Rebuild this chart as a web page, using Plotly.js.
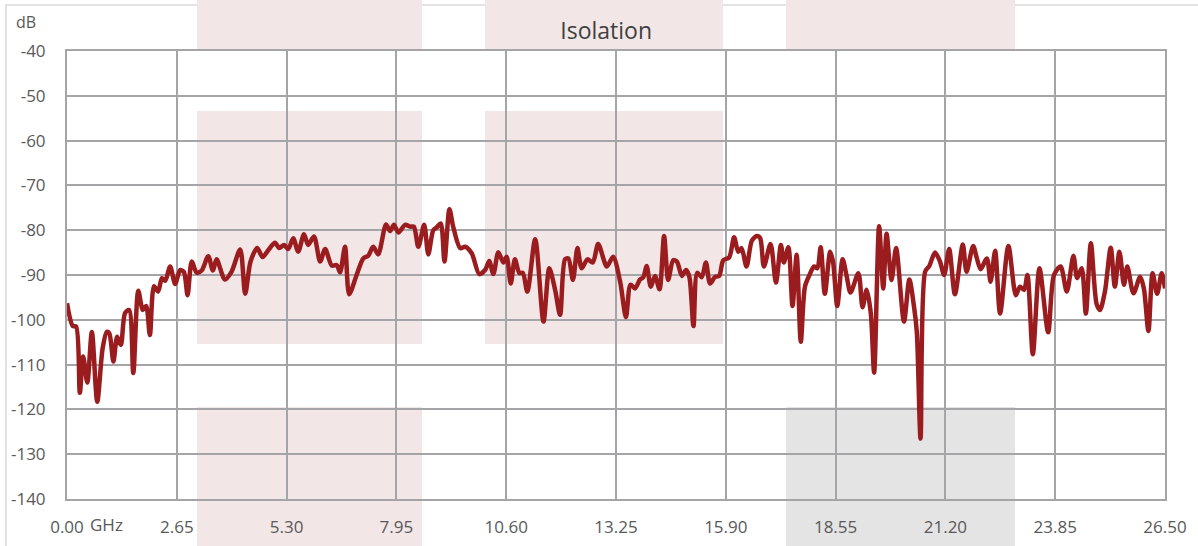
<!DOCTYPE html>
<html>
<head>
<meta charset="utf-8">
<script src="https://cdn.plot.ly/plotly-3.0.1.min.js"></script>
<style>html,body{margin:0;padding:0;background:#fff;}#chart{width:1198px;height:546px;}</style>
</head>
<body>
<div id="chart"></div>
<script>
// Frequency (GHz)
const freqGHz = [
0.00,0.14,0.22,0.31,0.39,0.49,0.60,0.73,0.86,0.96,1.02,1.12,1.21,1.30,1.40,1.50,1.60,1.72,1.83,1.91,
2.00,2.10,2.20,2.29,2.37,2.49,2.61,2.73,2.82,2.91,3.01,3.13,3.25,3.41,3.52,3.61,3.81,3.97,4.18,4.30,
4.43,4.59,4.72,4.86,5.02,5.12,5.24,5.34,5.46,5.58,5.72,5.82,5.96,6.11,6.23,6.39,6.51,6.59,6.71,6.81,
6.99,7.15,7.27,7.39,7.51,7.70,7.80,7.89,8.00,8.16,8.28,8.37,8.48,8.62,8.72,8.84,8.92,9.02,9.11,9.23,
9.32,9.49,9.61,9.77,9.95,10.09,10.19,10.29,10.41,10.53,10.61,10.71,10.81,10.92,11.00,11.11,11.30,11.50,11.64,11.78,
11.90,12.02,12.10,12.21,12.32,12.42,12.56,12.69,12.82,13.03,13.18,13.35,13.49,13.60,13.71,13.83,13.91,13.99,14.09,14.19,
14.30,14.41,14.51,14.63,14.72,14.84,14.94,15.02,15.12,15.21,15.32,15.42,15.52,15.64,15.74,15.84,15.98,16.10,16.20,16.28,
16.40,16.53,16.65,16.73,16.82,16.98,17.11,17.23,17.30,17.41,17.51,17.61,17.71,17.81,17.92,18.03,18.11,18.19,18.29,18.42,
18.49,18.59,18.72,18.82,18.91,19.10,19.20,19.30,19.40,19.48,19.60,19.70,19.78,19.90,20.01,20.20,20.33,20.44,20.51,20.60,
20.71,20.81,20.95,21.07,21.17,21.29,21.43,21.62,21.71,21.87,21.96,22.05,22.20,22.29,22.40,22.52,22.72,22.90,23.00,23.10,
23.18,23.31,23.47,23.68,23.82,23.98,24.13,24.29,24.38,24.49,24.59,24.71,24.85,24.93,25.05,25.19,25.29,25.40,25.51,25.59,
25.74,25.90,25.99,26.10,26.20,26.31,26.42,26.50
];
// Isolation (dB)
const isolationDB = [
-96.3,-101.4,-101.5,-116.3,-108.2,-114.0,-102.7,-118.3,-106.4,-102.7,-103.0,-109.3,-103.8,-105.6,-98.5,-97.8,-111.9,-93.5,-97.8,-96.9,
-103.4,-92.5,-93.7,-90.7,-91.3,-88.1,-92.0,-88.9,-89.3,-94.5,-87.0,-89.5,-89.0,-85.8,-89.0,-86.5,-91.0,-89.3,-84.3,-94.2,
-87.0,-84.0,-86.0,-84.4,-82.8,-84.0,-83.3,-84.2,-81.8,-84.8,-80.9,-83.3,-81.4,-87.0,-84.2,-87.9,-87.8,-89.4,-83.7,-94.3,
-90.0,-86.3,-85.7,-83.7,-85.4,-78.7,-80.2,-78.8,-80.5,-78.8,-79.2,-79.2,-83.7,-78.8,-85.4,-80.0,-79.4,-78.5,-87.0,-75.3,
-79.2,-84.0,-83.7,-85.2,-89.8,-88.9,-86.9,-89.8,-84.9,-87.2,-85.9,-91.9,-86.5,-89.6,-89.5,-93.7,-82.0,-100.4,-88.5,-93.3,
-98.9,-86.5,-86.3,-91.1,-84.0,-88.5,-86.5,-87.2,-83.1,-88.1,-85.9,-91.5,-99.4,-92.2,-93.0,-91.0,-90.5,-88.0,-92.6,-90.2,
-93.2,-81.3,-91.1,-86.7,-87.0,-90.2,-88.9,-90.4,-101.4,-89.5,-90.5,-87.2,-91.9,-90.4,-90.2,-86.7,-86.1,-81.6,-84.8,-84.0,
-88.1,-82.3,-81.3,-81.8,-88.1,-83.1,-91.7,-83.3,-87.2,-83.8,-96.9,-85.5,-104.9,-92.6,-90.0,-88.1,-88.5,-83.8,-94.2,-84.8,
-87.2,-96.9,-86.5,-90.4,-93.9,-89.6,-97.2,-93.3,-98.6,-111.8,-79.1,-93.0,-80.8,-91.1,-84.0,-100.4,-91.0,-96.9,-102.7,-126.5,
-89.3,-88.0,-85.0,-87.0,-90.0,-84.2,-94.3,-83.2,-89.3,-83.5,-86.3,-88.7,-86.3,-91.5,-84.6,-98.6,-83.5,-94.5,-92.6,-93.3,
-90.0,-107.7,-88.5,-102.8,-90.0,-88.1,-93.7,-85.7,-90.7,-88.5,-98.6,-82.9,-96.5,-97.8,-93.7,-83.9,-92.6,-84.8,-92.2,-88.1,
-94.1,-90.4,-93.0,-102.5,-89.6,-94.2,-89.6,-93.0
];
// Axis ticks
const xTickVals = [0, 2.65, 5.30, 7.95, 10.60, 13.25, 15.90, 18.55, 21.20, 23.85, 26.50];
const xTickText = ["0.00", "2.65", "5.30", "7.95", "10.60", "13.25", "15.90", "18.55", "21.20", "23.85", "26.50"];
const yTickVals = [-40, -50, -60, -70, -80, -90, -100, -110, -120, -130, -140];
const yTickText = ["-40", "-50", "-60", "-70", "-80", "-90", "-100", "-110", "-120", "-130", "-140"];
const titleText = "Isolation";
const yUnit = "dB";
const xUnit = "GHz";

const FONT = "Open Sans, Liberation Sans, sans-serif";
const GRID = "#a5a5a8";
const PINK = "#f2e6e7";
const GREY = "#e4e4e4";

function rect(x0, x1, y0, y1, color) {
  return {type: "rect", xref: "paper", yref: "paper", x0: x0, x1: x1, y0: y0, y1: y1,
          fillcolor: color, line: {width: 0}, layer: "below"};
}

const shapes = [
  {type: "rect", xref: "paper", yref: "paper", x0: -0.0556, x1: 1.05, y0: -0.13, y1: 1.1027,
   fillcolor: "rgba(0,0,0,0)", line: {color: "#d9d9d9", width: 1.5}, layer: "below"},
  rect(0.1184, 0.3233, 1.0022, 1.13, PINK),
  rect(0.1184, 0.3233, 0.346, 0.866, PINK),
  rect(0.1184, 0.3233, -0.13, 0.2054, PINK),
  rect(0.3807, 0.5974, 1.0022, 1.13, PINK),
  rect(0.3807, 0.5974, 0.346, 0.866, PINK),
  rect(0.6548, 0.8634, 1.0022, 1.13, PINK),
  rect(0.6548, 0.8634, -0.13, 0.2054, GREY)
];

const trace = {
  x: freqGHz, y: isolationDB, type: "scatter", mode: "lines",
  line: {color: "#9b1c1f", width: 4.5, shape: "spline", smoothing: 0.8},
  hoverinfo: "skip"
};

const layout = {
  width: 1198, height: 546,
  margin: {l: 67, r: 33, t: 51, b: 47, pad: 0},
  paper_bgcolor: "#ffffff", plot_bgcolor: "rgba(0,0,0,0)",
  showlegend: false,
  font: {family: FONT, size: 17, color: "#595959"},
  title: {text: titleText, x: 0.506, xref: "container", xanchor: "center",
          y: 0.943, yref: "container", yanchor: "middle",
          font: {family: FONT, size: 23, color: "#404040"}},
  xaxis: {range: [0, 26.5], tickmode: "array", tickvals: xTickVals, ticktext: xTickText,
          showgrid: true, gridcolor: GRID, gridwidth: 2, zeroline: false,
          showline: true, linecolor: GRID, linewidth: 2, mirror: true,
          ticks: "outside", ticklen: 12, tickcolor: "rgba(0,0,0,0)",
          tickfont: {family: FONT, size: 17, color: "#595959"}, fixedrange: true},
  yaxis: {range: [-140, -40], tickmode: "array", tickvals: yTickVals, ticktext: yTickText,
          showgrid: true, gridcolor: GRID, gridwidth: 2, zeroline: false,
          showline: true, linecolor: GRID, linewidth: 2, mirror: true,
          ticks: "outside", ticklen: 16, tickcolor: "rgba(0,0,0,0)",
          tickfont: {family: FONT, size: 17, color: "#595959"}, fixedrange: true},
  shapes: shapes,
  annotations: [
    {text: yUnit, xref: "paper", yref: "paper", x: -0.0373, y: 1.0647,
     xanchor: "center", yanchor: "middle", showarrow: false,
     font: {family: FONT, size: 16, color: "#595959"}},
    {text: xUnit, xref: "x", yref: "paper", x: 0, y: -0.058, xshift: 21,
     xanchor: "left", yanchor: "middle", showarrow: false,
     font: {family: FONT, size: 17, color: "#595959"}}
  ]
};

Plotly.newPlot("chart", [trace], layout, {displayModeBar: false, staticPlot: true});
</script>
</body>
</html>
